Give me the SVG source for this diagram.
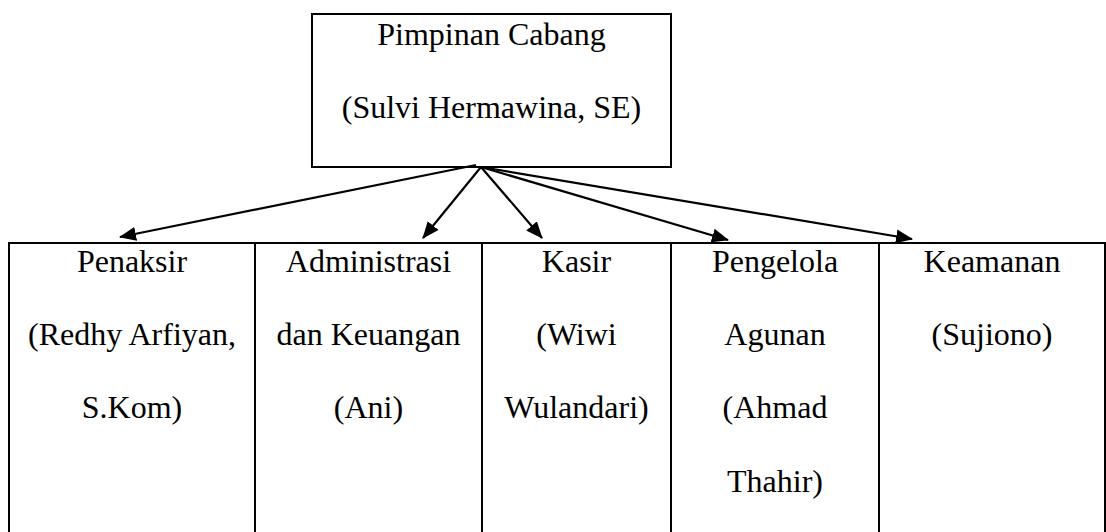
<svg xmlns="http://www.w3.org/2000/svg" width="1106" height="532" viewBox="0 0 1106 532">
<style>
.box{fill:none;stroke:#000;stroke-width:2}
.t{font-family:"Liberation Serif","Times New Roman",serif;font-size:32px;fill:#000;text-anchor:middle}
.c{stroke:#000;stroke-width:2.2;fill:none;marker-end:url(#ah)}
</style>
<defs>
<marker id="ah" markerUnits="userSpaceOnUse" markerWidth="17" markerHeight="14" refX="16" refY="7" orient="auto">
<path d="M0,0 L17,7 L0,14 Z" fill="#000"/>
</marker>
</defs>
<rect width="1106" height="532" fill="#fff"/>
<g id="pimpinan">
<rect class="box" x="312" y="14" width="359" height="153"/>
<text class="t" x="491.5" y="45">Pimpinan Cabang</text>
<text class="t" x="491.5" y="118">(Sulvi Hermawina, SE)</text>
</g>
<g id="table">
<path class="box" d="M9,534 V243 H1105 V534"/>
</g>
<g id="penaksir">
<path class="box" d="M255,243 V534"/>
<text class="t" x="132" y="272">Penaksir</text>
<text class="t" x="132" y="345">(Redhy Arfiyan,</text>
<text class="t" x="132" y="418">S.Kom)</text>
</g>
<g id="administrasi">
<path class="box" d="M482,243 V534"/>
<text class="t" x="368.5" y="272">Administrasi</text>
<text class="t" x="368.5" y="345">dan Keuangan</text>
<text class="t" x="368.5" y="418">(Ani)</text>
</g>
<g id="kasir">
<path class="box" d="M671,243 V534"/>
<text class="t" x="576.5" y="272">Kasir</text>
<text class="t" x="576.5" y="345">(Wiwi</text>
<text class="t" x="576.5" y="418">Wulandari)</text>
</g>
<g id="pengelola">
<path class="box" d="M879,243 V534"/>
<text class="t" x="775" y="272">Pengelola</text>
<text class="t" x="775" y="345">Agunan</text>
<text class="t" x="775" y="418">(Ahmad</text>
<text class="t" x="775" y="492">Thahir)</text>
</g>
<g id="keamanan">
<text class="t" x="992" y="272">Keamanan</text>
<text class="t" x="992" y="345">(Sujiono)</text>
</g>
<g id="connectors">
<path class="c" d="M476,165 L120,237"/>
<path class="c" d="M481,167 L423,238"/>
<path class="c" d="M481,167 L542,238"/>
<path class="c" d="M481,167 L728,240"/>
<path class="c" d="M481,167 L912,239"/>
</g>
</svg>
